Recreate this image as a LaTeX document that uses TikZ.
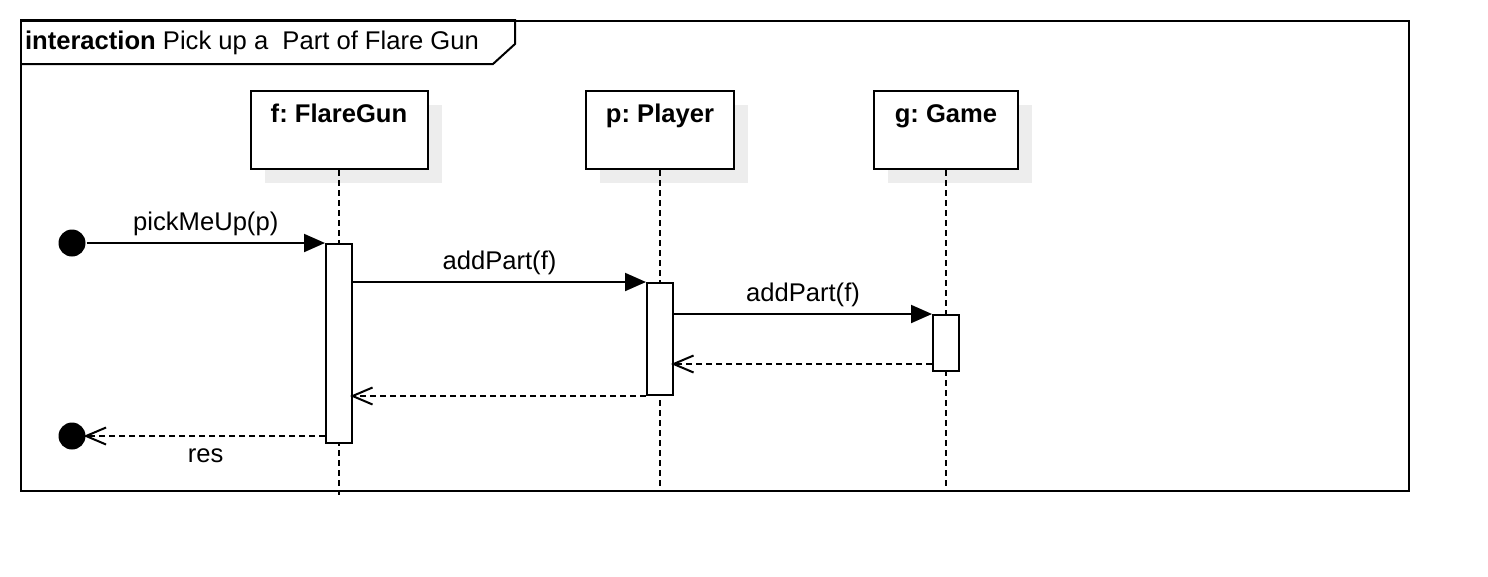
\documentclass[tikz,border=0pt]{standalone}
\usepackage{fontspec}
\setmainfont{Liberation Sans}
\usetikzlibrary{arrows.meta,shadows}
\frenchspacing
\begin{document}
\begin{tikzpicture}[x=1pt,y=-1pt,line width=2pt,
font=\fontsize{25.6}{30}\selectfont,
head/.style={draw,fill=white,anchor=north,font=\fontsize{25.6}{30}\selectfont\bfseries,
  inner ysep=0pt,text height=31pt,text depth=47pt,
  drop shadow={shadow xshift=14pt,shadow yshift=-14pt,fill=black!7,opacity=1}},
act/.style={draw,fill=white,anchor=north,minimum width=26pt,inner sep=0pt},
dot/.style={circle,fill,minimum size=27pt,inner sep=0pt},
lifeline/.style={dash pattern=on 6pt off 4pt},
call/.style={-{Triangle[length=21pt,width=18pt]}},
reply/.style={dash pattern=on 6pt off 4pt,-{Straight Barb[length=20pt,width=17pt]},shorten >=-3pt},
msg/.style={inner sep=0pt,inner ysep=6pt,text height=19pt,text depth=6pt}]
\useasboundingbox (0,0) rectangle (1488,576);
\node[draw,anchor=north west,minimum width=1388pt,minimum height=470pt] (frame) at (20,20) {};
\draw (frame.north west) -- ++(495,0) -- ++(0,24) -- ++(-22,20) -- (frame.north west |- 0,64);
\node[anchor=base west,inner sep=0pt] (title) at (24,49) {\textbf{interaction} Pick up a\ \ Part of Flare Gun};
\node[head,minimum width=177pt] (fg) at (339,90) {f: FlareGun};
\node[head,minimum width=148pt] (pl) at (660,90) {p: Player};
\node[head,minimum width=144pt] (gm) at (946,90) {g: Game};
\draw[lifeline] (fg.south) -- (fg.south |- 0,495);
\draw[lifeline] (pl.south) -- (pl.south |- 0,490);
\draw[lifeline] (gm.south) -- (gm.south |- 0,490);
\node[act,minimum height=199pt] (fa) at (fg.south |- 0,243) {};
\node[act,minimum height=112pt] (pa) at (pl.south |- 0,282) {};
\node[act,minimum height=56pt] (ga) at (gm.south |- 0,314) {};
\node[dot] (s) at (72,243) {};
\node[dot] (e) at (72,436) {};
\draw[call] (s) -- (fa.north west) node[msg,midway,above] {pickMeUp(p)};
\draw[call] (fa.north east |- pa.north) -- (pa.north west) node[msg,midway,above] {addPart(f)};
\draw[call] (pa.north east |- ga.north) -- (ga.north west) node[msg,midway,above] {addPart(f)};
\draw[reply] (ga.west |- 0,364) -- (pa.east |- 0,364);
\draw[reply] (pa.south west) -- (fa.east |- pa.south);
\draw[reply] (fa.west |- e) -- (e) node[msg,midway,below] {res};
\end{tikzpicture}
\end{document}
